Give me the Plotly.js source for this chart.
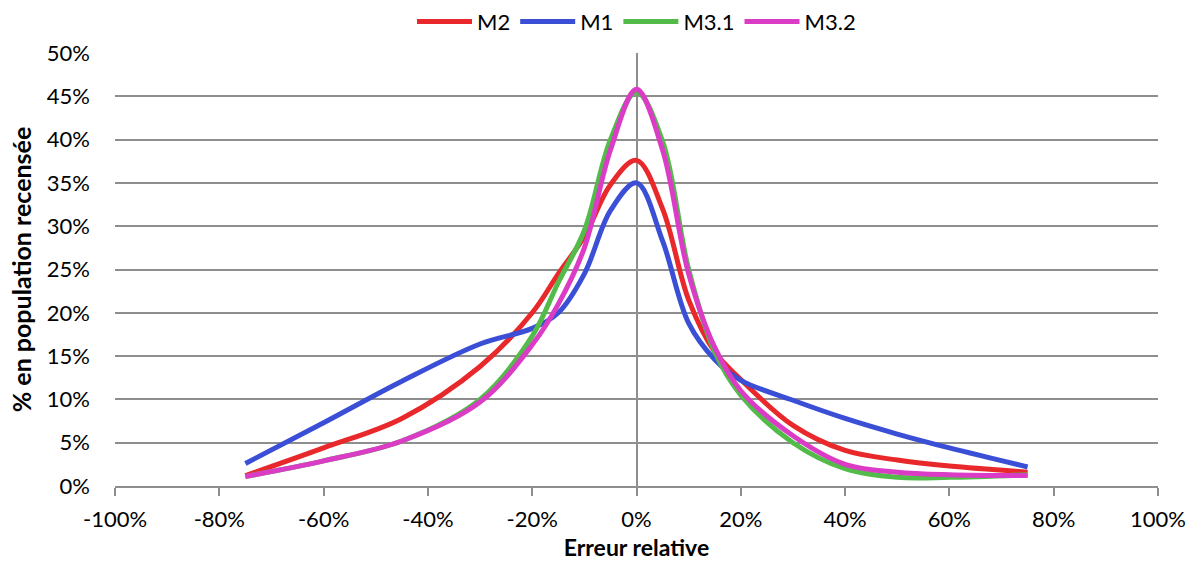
<!DOCTYPE html>
<html>
<head>
<meta charset="utf-8">
<script src="https://cdn.plot.ly/plotly-3.0.1.min.js"></script>
<style>
html,body{margin:0;padding:0;background:#fff;}
#chart{width:1192px;height:562px;}
</style>
</head>
<body>
<div id="chart"></div>
<script>
// Relative error (%) at which each series is given
const errors = [-75, -60, -45, -30, -20, -15, -10, -5, 0, 5, 10, 15, 20, 30, 40, 50, 60, 75];
// % of census population
const m2   = [1.2, 4.4, 7.8, 13.8, 20.0, 24.5, 28.8, 34.8, 37.6, 32.0, 21.5, 15.5, 12.3, 7.0, 4.1, 3.0, 2.3, 1.6];
const m1   = [2.6, 7.3, 12.1, 16.4, 18.2, 20.0, 24.5, 31.8, 35.0, 28.3, 18.8, 14.6, 12.2, 9.9, 7.8, 6.0, 4.4, 2.2];
const m31  = [1.1, 2.9, 5.2, 10.0, 17.3, 23.5, 29.5, 40.0, 45.5, 39.8, 25.0, 15.5, 10.5, 5.0, 2.0, 1.0, 1.0, 1.3];
const m32  = [1.1, 2.9, 5.2, 9.7, 16.3, 21.0, 27.5, 38.8, 45.8, 38.8, 24.5, 16.0, 11.0, 5.8, 2.5, 1.6, 1.3, 1.2];
const seriesNames = ['M2', 'M1', 'M3.1', 'M3.2'];
const seriesColors = ['#e8282a', '#3b4fd6', '#52bb4a', '#db3cc6'];
const xTicks = [-100, -80, -60, -40, -20, 0, 20, 40, 60, 80, 100];
const yTicks = [0, 5, 10, 15, 20, 25, 30, 35, 40, 45, 50];

const ser = [m2, m1, m31, m32];
const traces = ser.map((ys, i) => ({
  x: errors, y: ys, name: seriesNames[i], type: 'scatter', mode: 'lines',
  line: {color: seriesColors[i], width: 5, shape: 'spline', smoothing: 1}
}));

const FONT = 'Lato, "Open Sans", sans-serif';
const grid = '#8e8e8e';
const layout = {
  width: 1192, height: 562,
  margin: {l: 115, r: 34, t: 53, b: 76, autoexpand: false},
  paper_bgcolor: '#fff', plot_bgcolor: '#fff',
  font: {family: FONT, size: 22, color: '#000'},
  showlegend: true,
  legend: {orientation: 'h', x: 0.5, xanchor: 'center', y: 1.072, yanchor: 'middle',
           font: {family: FONT, size: 22, color: '#000'}, itemwidth: 55, tracegroupgap: 0},
  xaxis: {
    range: [-100, 100], tickvals: xTicks, ticktext: xTicks.map(v => v + '%'),
    showgrid: false, zeroline: true, zerolinecolor: grid, zerolinewidth: 2,
    showline: true, linecolor: grid, linewidth: 2,
    ticks: 'outside', ticklen: 8, tickwidth: 2, tickcolor: grid,
    tickfont: {family: FONT, size: 22}, ticklabelstandoff: 5,
    title: {text: '<b>Erreur relative</b>', font: {family: FONT, size: 23}, standoff: 8}
  },
  yaxis: {
    range: [0, 50], tickvals: yTicks, ticktext: yTicks.map(v => v + '%'),
    showgrid: true, gridcolor: grid, gridwidth: 2, zeroline: false, showline: false,
    ticks: '', tickfont: {family: FONT, size: 22}, ticklabelstandoff: 24,
    title: {text: '<b>% en population recensée</b>', font: {family: FONT, size: 25}, standoff: 8}
  }
};
Plotly.newPlot('chart', traces, layout, {displayModeBar: false, staticPlot: true});
</script>
</body>
</html>
